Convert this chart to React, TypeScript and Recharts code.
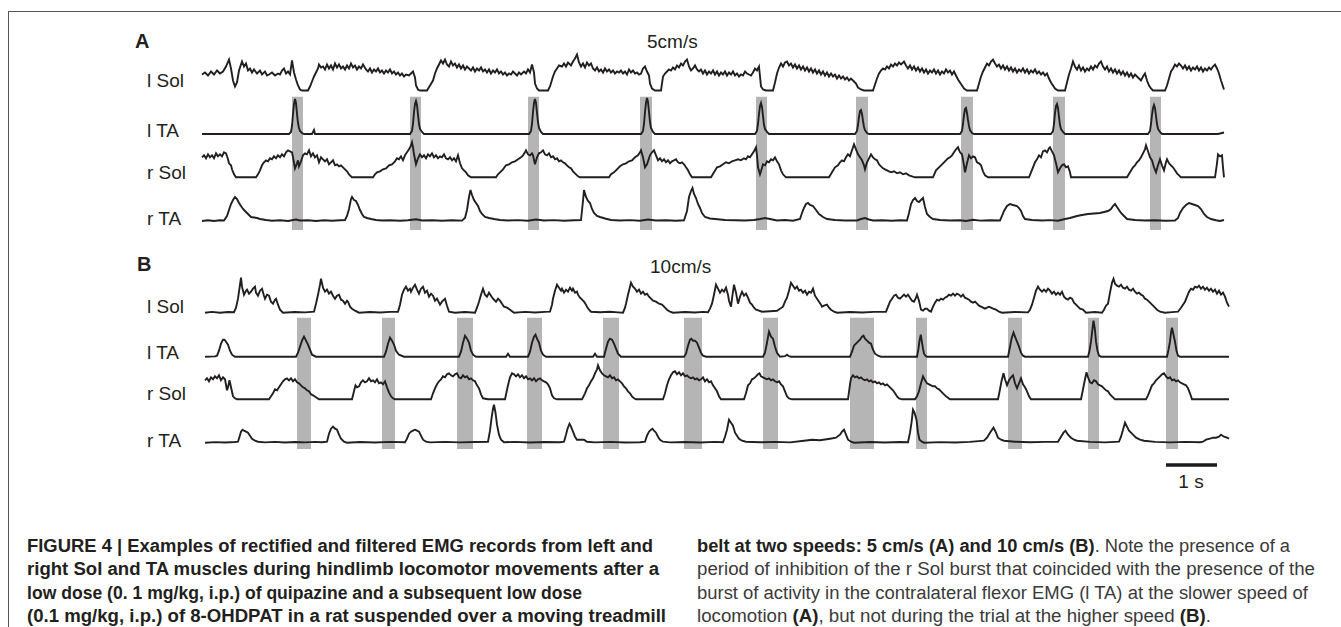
import React from 'react';
import { LineChart, Line, XAxis, YAxis, ReferenceArea, ReferenceLine } from 'recharts';

// ---------- DATA (time in samples, ~51 samples per second; amplitude in arbitrary units) ----------
const SAMPLES_PER_SECOND = 51;
const TIME_DOMAIN = [0, 1030];
const MUSCLES = ['l Sol', 'l TA', 'r Sol', 'r TA'];
const PANEL_LETTERS = ['A', 'B'];
const SPEEDS = ['5cm/s', '10cm/s'];
const SCALE_BAR_LABEL = '1 s';
const SCALE_BAR_START = 966;

// periods of l TA activity (shaded), [start, end] in samples
const BANDS_A = [[92, 103], [210, 221], [328, 339], [440, 452], [556, 567], [656, 668], [761, 773], [853, 865], [950, 961]];
const BANDS_B = [[97, 111], [182, 195], [257, 273], [327, 342], [403, 419], [484, 502], [563, 578], [650, 674], [716, 727], [808, 822], [888, 899], [966, 978]];

const L_SOL_A = [[2,16],[5,18],[8,15],[11,19],[14,16],[17,20],[20,17],[23,19],[26,24],[29,31],[31,22],[33,10],[35,4],[37,8],[39,20],[42,29],[44,24],[46,27],[48,20],[50,22],[52,18],[54,21],[57,17],[60,20],[62,16],[65,19],[67,15],[69,16],[72,18],[75,15],[78,17],[80,16],[82,20],[84,22],[86,17],[88,19],[90,16],[92,30],[94,18],[96,11],[98,5],[100,1],[102,0],[108,0],[110,4],[112,9],[114,14],[116,18],[118,22],[119,26],[121,23],[123,24],[125,21],[127,26],[129,22],[131,25],[133,21],[135,27],[137,23],[139,26],[141,22],[143,24],[145,21],[147,25],[149,22],[151,27],[153,23],[155,25],[157,21],[159,24],[161,22],[163,26],[166,21],[168,19],[170,22],[172,18],[174,21],[176,19],[178,22],[180,18],[182,20],[184,17],[186,20],[188,18],[190,21],[192,17],[194,19],[196,16],[198,18],[200,15],[202,17],[204,14],[206,16],[209,15],[211,17],[213,19],[215,13],[216,5],[218,1],[220,0],[227,0],[230,5],[233,10],[235,17],[237,22],[239,26],[241,30],[243,27],[245,31],[247,26],[249,24],[251,29],[253,25],[255,27],[257,23],[259,26],[261,22],[263,25],[265,21],[267,24],[269,22],[271,20],[273,23],[275,19],[277,22],[279,20],[281,23],[283,19],[285,21],[287,18],[289,21],[291,17],[293,20],[295,18],[297,21],[299,17],[301,19],[303,16],[305,18],[307,15],[309,17],[311,16],[313,19],[315,17],[317,15],[319,18],[321,16],[324,19],[326,17],[328,21],[330,18],[332,26],[334,18],[335,7],[337,2],[339,0],[348,0],[350,4],[353,14],[355,19],[357,22],[359,25],[362,24],[364,27],[366,24],[368,28],[371,25],[373,29],[375,32],[377,36],[379,28],[381,24],[383,27],[385,23],[387,28],[389,25],[391,27],[393,22],[395,20],[397,23],[399,19],[401,21],[403,18],[405,22],[407,19],[409,21],[411,18],[413,20],[415,17],[417,19],[419,18],[421,20],[423,17],[425,19],[427,16],[429,21],[431,18],[433,20],[435,17],[437,18],[439,16],[441,17],[443,22],[445,24],[447,19],[449,15],[450,7],[452,2],[455,0],[461,0],[463,14],[465,17],[467,19],[469,21],[471,20],[473,23],[475,21],[477,25],[479,23],[481,27],[483,25],[485,29],[487,31],[489,24],[491,20],[493,22],[495,25],[497,21],[499,19],[501,21],[503,17],[505,20],[507,16],[509,19],[511,17],[513,20],[515,16],[517,19],[519,15],[521,18],[523,16],[525,19],[527,15],[529,18],[531,16],[533,19],[535,15],[537,17],[539,14],[541,16],[543,15],[545,19],[547,17],[549,16],[551,15],[553,18],[555,22],[557,20],[559,24],[561,4],[563,1],[566,0],[573,0],[575,8],[577,17],[579,23],[581,27],[583,24],[585,28],[587,29],[589,25],[591,27],[593,23],[595,26],[597,22],[599,25],[601,21],[603,24],[605,20],[607,23],[609,19],[611,22],[613,18],[615,21],[617,17],[619,20],[621,16],[623,19],[625,15],[627,18],[629,14],[631,17],[633,14],[635,16],[637,12],[639,15],[641,12],[643,14],[645,11],[647,13],[649,10],[651,12],[654,9],[656,7],[658,3],[661,1],[664,0],[673,0],[675,6],[677,12],[679,17],[681,20],[683,22],[685,21],[687,24],[689,22],[691,26],[693,24],[695,27],[697,25],[699,28],[701,26],[704,29],[706,25],[708,22],[710,25],[712,21],[714,24],[716,20],[718,23],[720,19],[722,22],[724,18],[726,21],[728,17],[730,20],[732,18],[734,21],[736,17],[738,20],[740,16],[742,19],[744,17],[746,21],[748,18],[750,20],[752,16],[754,19],[756,15],[758,11],[760,8],[762,5],[764,2],[767,0],[777,0],[779,7],[781,14],[783,19],[785,23],[787,27],[789,25],[791,29],[793,31],[795,27],[797,24],[799,26],[801,22],[803,25],[805,21],[807,24],[809,20],[811,23],[813,19],[815,22],[817,18],[819,21],[821,19],[823,22],[825,18],[827,21],[829,17],[831,20],[833,18],[835,21],[837,17],[839,19],[841,16],[843,18],[845,15],[847,17],[849,12],[851,8],[853,5],[855,2],[858,0],[865,0],[867,8],[869,16],[871,22],[873,29],[875,24],[877,21],[879,25],[881,20],[883,23],[885,19],[887,22],[889,20],[891,24],[893,21],[895,25],[897,23],[899,27],[901,29],[903,24],[905,21],[907,24],[909,19],[911,22],[913,18],[915,21],[917,17],[919,20],[921,16],[923,19],[925,15],[927,18],[929,14],[931,17],[933,13],[935,16],[937,14],[939,12],[941,10],[943,14],[945,17],[947,10],[949,5],[951,2],[953,0],[965,0],[967,5],[969,12],[971,19],[973,22],[975,26],[977,24],[979,27],[981,25],[983,22],[985,25],[987,21],[989,24],[991,20],[993,23],[995,21],[997,24],[999,20],[1001,23],[1003,19],[1005,22],[1007,20],[1009,23],[1011,21],[1013,24],[1015,26],[1017,22],[1019,17],[1021,10],[1024,1]];

const L_TA_A = [[2,0],[89,0],[91,2],[92,8],[93,20],[94,30],[95,35],[96,31],[97,20],[98,11],[99,6],[100,3],[102,1],[104,0],[112,0],[114,4],[115,0],[210,0],[212,3],[213,10],[214,22],[215,30],[216,33],[217,29],[218,19],[219,10],[220,5],[222,2],[224,0],[329,0],[331,3],[332,10],[333,22],[334,31],[335,35],[336,31],[337,21],[338,12],[339,6],[341,2],[343,0],[441,0],[443,3],[444,10],[445,22],[446,31],[447,36],[448,32],[449,22],[450,12],[451,6],[453,2],[455,0],[555,0],[557,3],[558,10],[559,20],[560,28],[561,31],[562,27],[563,18],[564,9],[565,5],[567,2],[569,0],[655,0],[657,3],[658,9],[659,17],[660,23],[661,24],[662,20],[663,13],[664,7],[665,4],[667,1],[669,0],[760,0],[762,3],[763,10],[764,19],[765,25],[766,26],[767,21],[768,14],[769,8],[770,4],[772,1],[774,0],[851,0],[853,3],[854,10],[855,21],[856,28],[857,30],[858,26],[859,17],[860,9],[861,5],[863,2],[865,0],[948,0],[950,3],[951,10],[952,19],[953,26],[954,29],[955,26],[956,18],[957,10],[958,5],[960,2],[962,0],[1018,0],[1022,1],[1024,1.5]];

const R_SOL_A = [[2,20],[4,22],[6,19],[8,23],[10,20],[12,22],[14,19],[16,24],[18,21],[20,23],[22,21],[24,25],[26,24],[28,18],[29,14],[31,12],[32,8],[34,3],[36,0],[56,0],[58,3],[60,7],[62,12],[64,15],[66,17],[68,16],[70,19],[72,18],[74,21],[76,19],[78,22],[80,20],[82,23],[84,21],[86,25],[88,27],[90,26],[92,25],[93,20],[95,9],[97,14],[98,17],[99,11],[101,16],[103,22],[105,24],[107,23],[109,27],[111,21],[113,24],[115,20],[117,22],[119,15],[121,20],[123,18],[125,16],[127,18],[129,13],[131,15],[133,17],[135,12],[137,13],[139,11],[141,12],[143,10],[145,8],[147,6],[149,3],[152,0],[173,0],[175,3],[177,5],[180,6],[183,8],[186,9],[189,12],[192,13],[195,16],[197,19],[199,18],[201,21],[203,17],[205,22],[207,25],[209,28],[211,32],[212,35],[213,30],[214,23],[215,18],[216,13],[218,19],[220,23],[222,20],[224,22],[226,19],[228,23],[230,21],[232,24],[234,20],[236,22],[238,19],[240,21],[242,20],[244,23],[246,19],[248,18],[250,20],[252,17],[254,19],[256,16],[258,22],[260,14],[262,9],[264,7],[266,5],[268,2],[271,0],[296,0],[298,3],[300,5],[303,8],[306,12],[309,13],[312,15],[315,16],[318,18],[321,20],[323,22],[325,25],[326,27],[328,23],[330,22],[332,24],[333,22],[335,13],[337,20],[339,24],[341,25],[343,27],[345,23],[347,22],[349,24],[351,20],[353,21],[355,18],[357,19],[359,16],[361,17],[363,15],[365,14],[367,12],[369,10],[371,9],[373,6],[375,4],[378,1],[380,0],[409,0],[411,3],[414,5],[417,8],[420,11],[423,13],[426,14],[429,16],[432,17],[435,20],[438,22],[440,25],[441,27],[443,20],[445,10],[447,13],[448,16],[450,22],[452,25],[454,27],[456,22],[458,17],[460,19],[462,16],[464,18],[466,15],[468,17],[470,14],[472,16],[474,17],[476,18],[478,15],[480,14],[482,15],[484,13],[486,10],[488,7],[490,3],[492,0],[511,0],[514,5],[517,10],[520,11],[523,13],[526,15],[529,14],[532,16],[535,17],[538,18],[541,17],[544,19],[546,18],[548,21],[550,20],[552,23],[554,26],[556,30],[557,22],[558,10],[560,3],[561,6],[563,13],[565,12],[567,16],[569,15],[571,18],[573,17],[575,20],[577,16],[579,13],[581,7],[583,3],[586,0],[629,0],[632,5],[635,10],[638,12],[640,15],[642,17],[644,16],[646,20],[648,23],[650,21],[652,27],[654,33],[656,28],[658,23],[660,20],[662,17],[664,12],[665,8],[667,15],[669,19],[671,23],[673,20],[675,18],[677,17],[679,13],[681,11],[683,9],[685,8],[687,7],[689,6],[691,5],[694,6],[697,4],[700,5],[703,3],[706,4],[709,2],[712,1],[715,0],[733,0],[736,7],[739,10],[742,13],[744,15],[746,17],[748,19],[750,20],[752,22],[754,25],[756,28],[758,30],[760,25],[762,23],[764,12],[765,5],[767,14],[769,22],[771,19],[773,21],[775,20],[777,15],[779,14],[781,12],[783,6],[785,2],[788,0],[829,0],[831,5],[833,10],[835,15],[837,18],[839,22],[841,20],[843,26],[845,27],[847,25],[849,29],[850,30],[852,26],[854,22],[856,14],[858,5],[860,9],[862,12],[864,13],[866,10],[868,11],[870,5],[871,0],[927,0],[930,5],[933,10],[935,12],[937,15],[939,17],[941,20],[943,24],[945,28],[946,32],[948,26],[950,20],[952,17],[954,10],[956,5],[958,12],[960,18],[962,12],[964,7],[966,15],[967,18],[969,14],[971,12],[973,10],[975,7],[977,4],[979,2],[981,0],[1015,0],[1017,14],[1018,23],[1020,21],[1022,22],[1023,10],[1024,0]];

const R_TA_A = [[2,0],[8,0.7],[14,0],[20,0.8],[24,0.5],[27,5],[29,11],[31,17],[33,21],[35,24],[37,22],[39,18],[41,15],[43,12],[45,10],[47,8],[49,6],[51,4],[54,3.5],[57,3],[60,2],[63,1.5],[66,1],[72,0.3],[80,0.8],[88,0],[96,1.5],[100,0.5],[108,0.8],[116,0],[124,0.7],[132,0.2],[140,0.8],[145,1],[147,5],[149,12],[151,22],[152,24],[154,21],[156,20],[158,16],[160,11],[162,7],[164,4],[167,3],[171,2],[176,1],[182,0.5],[190,0.8],[200,0.2],[208,0.8],[216,1.8],[222,0.5],[232,0.8],[242,0.2],[252,0.7],[262,0.4],[265,3],[267,11],[269,24],[270.5,31],[272,26],[274,21],[276,18],[278,15],[280,10],[282,7],[285,4],[289,3],[294,2],[300,1],[308,0.5],[318,0.9],[328,0.3],[336,1.5],[344,0.5],[354,0.9],[364,0.2],[374,0.8],[381,1],[383,20],[384,31],[386,24],[388,20],[390,18],[392,12],[394,8],[397,5],[400,4],[405,2.5],[411,1],[420,0.5],[430,0.9],[440,0.3],[448,1.5],[456,0.5],[466,0.8],[476,0.3],[484,0.7],[487,10],[489,24],[491,30],[492.5,33],[494,27],[496,23],[498,17],[500,13],[502,8],[505,4],[510,2.5],[515,2],[525,1],[535,0.8],[545,0.5],[554,1],[560,2],[565,3],[570,2],[577,0.5],[585,1],[593,0.3],[600,2],[602,8],[604,13],[606,17],[608,18],[610,16],[613,15],[616,11],[619,7],[623,4],[627,2],[635,1],[645,0.5],[657,0.5],[661,2],[665,3],[669,1.5],[673,0.5],[682,0.8],[692,0.3],[700,0.7],[707,0.5],[709,8],[711,17],[713,21],[715,23],[717,20],[719,19],[721,21],[723,23],[725,14],[727,7],[730,4],[733,2],[740,1],[750,0.5],[760,0.8],[766,0],[773,1.2],[780,0.4],[790,0.8],[800,0.5],[802,5],[804,10],[807,15],[810,17],[813,16],[817,15],[819,13],[821,10],[823,5],[825,2],[832,1],[842,0.5],[850,0.9],[858,0.3],[865,2],[870,3],[877,5],[882,6],[888,7],[894,7.5],[900,8],[904,9],[908,10],[911,12],[913,15],[915,17],[917,14],[919,11],[921,8],[924,5],[927,2],[935,1],[945,0.5],[955,0.8],[965,0.2],[975,0.5],[978,3],[980,8],[983,13],[986,16],[989,18],[992,17],[995,16],[998,15],[1001,12],[1004,7],[1007,4],[1011,2],[1016,0.8],[1020,0],[1024,1]];

const L_SOL_B = [[5,0],[12,0.8],[20,0],[28,0.7],[34,0.5],[36,5],[38,14],[40,28],[41,35],[42,26],[44,18],[46,22],[47,23],[49,19],[51,21],[53,24],[55,26],[56,20],[58,17],[60,22],[62,24],[64,17],[65,14],[67,18],[69,17],[71,11],[73,9],[75,13],[76,14],[78,8],[80,3],[83,0],[95,0.7],[105,0.3],[114,1],[116,9],[118,18],[120,28],[121,34],[123,25],[125,21],[127,23],[129,19],[131,21],[133,17],[135,14],[137,17],[139,18],[141,13],[143,12],[145,9],[147,12],[148,11],[150,6],[152,4],[155,2],[159,0],[170,0.7],[180,0.2],[190,0.8],[198,1],[200,8],[202,18],[204,23],[206,26],[208,22],[210,24],[211,21],[213,25],[215,28],[217,23],[219,19],[221,24],[223,26],[225,20],[227,22],[229,16],[231,19],[233,17],[235,12],[237,14],[240,8],[242,11],[244,13],[245,14],[247,7],[249,1],[255,0],[265,0.7],[275,0],[277,5],[279,11],[281,18],[283,24],[285,18],[287,16],[289,20],[291,17],[293,14],[296,11],[298,14],[300,12],[302,9],[304,6],[307,5],[310,3],[314,0],[325,0.8],[335,0.2],[345,0.8],[350,1],[352,8],[353,14],[355,22],[357,28],[359,25],[361,22],[362,24],[364,20],[366,23],[368,21],[370,25],[372,22],[373,24],[375,20],[377,21],[378,18],[380,15],[382,13],[384,11],[386,8],[387,6],[389,3],[391,1],[400,0.5],[410,0.9],[418,0.3],[423,0],[425,5],[426,9],[428,18],[430,26],[431,30],[433,26],[435,24],[437,21],[439,23],[441,19],[443,21],[445,18],[447,19],[449,16],[451,14],[453,12],[456,11],[459,9],[462,8],[465,5],[467,3],[470,1],[473,0],[485,0.7],[495,0.2],[503,0.8],[508,0.5],[510,4],[512,9],[514,18],[516,28],[518,24],[520,20],[522,23],[524,21],[526,25],[528,18],[529,12],[531,6],[532,14],[534,28],[536,20],[538,9],[540,16],[542,21],[544,17],[546,19],[548,15],[550,10],[552,8],[554,5],[556,3],[559,2],[562,1],[570,1.5],[577,2],[580,4],[583,6],[585,11],[587,15],[589,22],[591,30],[593,27],[595,24],[597,26],[599,22],[601,23],[603,20],[605,22],[607,18],[609,21],[611,20],[613,24],[615,17],[617,14],[619,11],[621,8],[622,6],[624,7],[627,8],[629,5],[631,3],[634,1],[637,0],[650,0.7],[662,0.2],[674,0.8],[686,1],[688,6],[690,11],[692,14],[694,17],[696,18],[698,15],[700,14],[702,16],[704,18],[706,16],[708,18],[710,15],[712,12],[714,11],[716,15],[717,18],[719,12],[721,3],[723,2],[725,4],[727,4],[729,2],[731,1],[733,6],[735,10],[737,13],[739,12],[741,14],[743,13],[745,15],[747,16],[749,18],[751,17],[753,19],[755,17],[757,19],[759,18],[761,16],[763,18],[765,15],[767,14],[769,13],[771,11],[773,10],[775,11],[777,9],[779,7],[781,6],[783,5],[785,4],[787,5],[789,6],[791,5],[793,4],[796,3],[799,1],[802,0],[815,0.7],[828,0.3],[830,3],[832,8],[834,15],[836,22],[838,26],[840,23],[842,21],[844,23],[846,21],[848,24],[850,22],[852,19],[854,21],[856,18],[858,20],[860,18],[862,21],[864,16],[866,14],[868,13],[870,15],[872,14],[874,10],[876,8],[878,6],[880,4],[883,3],[886,0],[895,0.7],[902,0],[904,3],[906,7],[908,9],[910,20],[912,30],[913.5,34],[915,29],[917,27],[919,26],[921,28],[923,25],[925,24],[927,26],[929,23],[931,22],[933,24],[935,21],[937,19],[939,20],[941,18],[943,17],[945,14],[947,13],[949,11],[951,9],[953,7],[955,5],[957,3],[960,1],[965,0],[972,0.6],[978,1],[981,5],[983,8],[985,11],[987,16],[989,21],[991,24],[993,23],[995,26],[997,25],[999,27],[1001,24],[1003,26],[1005,23],[1007,25],[1009,22],[1011,24],[1013,21],[1015,23],[1017,19],[1019,22],[1021,18],[1023,20],[1025,16],[1027,10],[1029,6]];

const L_TA_B = [[5,0],[15,0.3],[17,1],[19,6],[21,13],[23,17],[24.5,17],[26,15],[28,12],[30,6],[32,2],[35,0],[96,0],[98,4],[100,10],[102,16],[104,20],[106,16],[108,12],[110,7],[112,2],[116,0],[184,0],[186,5],[188,13],[190,19],[192,16],[194,12],[196,6],[199,2],[204,0],[259,0],[261,5],[263,14],[265,21],[267,18],[269,14],[271,6],[273,2],[276,0],[306,0],[308,3],[310,0],[328,0],[330,5],[332,14],[334,20],[335.5,22],[337,18],[339,14],[341,6],[343,2],[346,0],[393,0],[395,3],[397,0],[404,0],[406,8],[408,15],[410,18],[412,17],[414,13],[416,8],[418,3],[421,0],[484,0],[486,3],[488,11],[490,17],[491.5,18],[493,16],[495,16],[497,14],[499,9],[501,4],[503,1],[506,0],[563,0],[565,4],[567,14],[569,25],[571,20],[573,18],[575,10],[577,4],[580,0],[585,0.5],[587,2],[589,0.5],[591,0],[650,0],[652,5],[654,11],[656,13],[658,15],[660,17],[662,20],[663.5,21],[665,18],[667,16],[669,14],[671,13],[673,7],[675,3],[678,1],[681,0],[717,0],[718.5,8],[719.5,16],[720.8,22],[722,14],[723,8],[724,3],[725.5,1],[727,0],[808,0],[810,10],[811.5,18],[813.5,24],[815,20],[817,15],[819,10],[821,4],[823,1],[825,0],[888,0],[889.5,6],[891,15],[892.5,28],[893.5,36],[894.8,28],[896,15],[897.5,6],[899,1],[901,0],[967,0],[968.5,7],[970,15],[971,24],[972,29],[973.5,22],[975,15],[976.5,6],[978,1],[980,0],[1029,0]];

const R_SOL_B = [[5,19],[7,21],[9,18],[11,22],[13,20],[15,23],[17,21],[19,24],[21,19],[23,22],[25,20],[27,9],[28,12],[29.5,19],[31,12],[33,3],[35,1],[37,0],[69,0],[71,3],[73,6],[75,10],[77,9],[79,12],[81,15],[83,18],[85,20],[87,21],[89,19],[91,21],[93,18],[95,20],[97,17],[99,16],[101,14],[103,12],[105,11],[107,9],[109,8],[111,5],[113,4],[116,2],[119,0],[152,0],[154,8],[155.5,14],[157,12],[159,13],[161,17],[163,19],[165,17],[167,18],[169,21],[171,18],[173,19],[175,17],[177,20],[179,16],[181,17],[183,15],[185,18],[187,12],[189,7],[191,3],[193,1],[195,0],[231,0],[233,6],[235,11],[237,15],[239,18],[241,20],[243,23],[245,22],[247,25],[249,26],[251,24],[253,23],[255,25],[257,26],[259,22],[261,21],[263,24],[265,22],[267,23],[269,20],[271,21],[273,19],[275,18],[277,14],[279,11],[281,5],[283,1],[288,0],[305,0],[306.5,7],[308,14],[310,22],[312,26],[314,25],[316,23],[318,25],[320,22],[322,24],[324,21],[326,23],[328,20],[330,21],[332,19],[334,21],[336,18],[338,20],[340,21],[342,19],[344,18],[346,17],[348,15],[350,11],[352,4],[354,1],[357,0],[382,0],[385,6],[387,11],[389,14],[391,18],[393,21],[395,26],[397,30],[398,34],[400,29],[402,26],[404,24],[406,23],[408,22],[410,24],[412,21],[414,22],[416,19],[418,20],[420,18],[422,16],[424,13],[426,11],[428,8],[430,6],[432,3],[434,1],[436,0],[463,0],[465,6],[467,14],[469,20],[471,24],[473,27],[475,28],[477,25],[479,27],[481,24],[483,26],[485,23],[487,24],[489,22],[491,21],[493,22],[495,20],[497,21],[499,19],[501,20],[503,22],[505,18],[507,20],[509,17],[511,18],[513,14],[515,11],[517,8],[519,3],[521,0],[544,0],[546,6],[548,14],[550,16],[552,20],[554,21],[556,23],[558,25],[559.5,26],[561,23],[563,22],[565,21],[567,20],[569,21],[571,19],[573,20],[575,18],[577,17],[579,18],[581,15],[583,13],[585,8],[587,3],[589,1],[592,0],[648,0],[650,15],[651,21],[653,24],[655,22],[657,23],[659,21],[661,22],[663,20],[665,19],[667,20],[669,18],[671,19],[673,17],[675,18],[677,16],[679,17],[681,15],[683,16],[685,14],[687,15],[689,13],[691,11],[693,9],[695,6],[697,3],[699,1],[702,0],[715,0],[717,3],[719,8],[721,16],[723,23],[725,19],[727,16],[729,15],[731,14],[733,13],[735,13],[737,11],[739,10],[741,8],[743,6],[746,3],[750,0],[798,0],[800,10],[801.5,18],[803.5,26],[805,20],[807,14],[809,19],[811,22],[813,24],[815,16],[817,11],[819,16],[821,21],[823,15],[825,12],[827,8],[829,3],[831,0],[881,0],[883,10],[885,20],[886.5,27],[888,22],[890,17],[892,16],[894,19],[896,18],[898,15],[900,14],[902,13],[904,11],[906,9],[908,8],[910,5],[912,3],[915,0],[946,0],[948,4],[950,9],[952,14],[954,16],[956,19],[958,21],[960,23],[962,25],[964,26],[966,23],[968,21],[970,22],[972,19],[974,20],[976,18],[978,19],[980,17],[982,16],[984,15],[986,14],[988,11],[990,6],[992,0],[1029,0]];

const R_TA_B = [[5,0],[15,0.6],[25,0.2],[35,0.7],[38,1],[39.5,6],[41,11],[42.5,13],[44,12],[46,11],[48,10],[50,7],[52,4],[55,2],[58,1],[65,0.3],[75,0.8],[85,0.2],[95,0.7],[105,0.3],[115,0.8],[122,0.4],[127,1],[129,9],[131,14],[133,16],[135,14],[137,13],[139,8],[141,4],[144,1],[147,0],[160,0.7],[175,0.2],[190,0.8],[205,0.5],[207,4],[209,9],[211,11],[213,12],[215,13],[217,12],[219,11],[221,7],[223,3],[226,1],[230,0.3],[245,0.8],[260,0.3],[275,0.7],[288,1],[290,12],[291.5,24],[293,34],[294,38],[295.5,30],[297,18],[299,8],[301,3],[304,0.5],[315,0.8],[330,0.2],[345,0.7],[360,0.4],[364,1],[366,8],[367.5,14],[369.5,19],[371,16],[373,11],[375,6],[377,3],[380,3],[384,3],[387,1],[395,0.3],[410,0.8],[425,0.2],[440,0.5],[445,1],[447,7],[449,11],[451,13],[452.5,14],[454,12],[456,10],[458,6],[460,3],[463,1],[470,0.3],[485,0.7],[500,0.2],[515,0.8],[523,0.5],[525,6],[527,13],[529,23],[531,20],[533,17],[535,10],[537,7],[539,4],[542,2],[546,1],[560,0.4],[575,0.8],[590,0.3],[604,2],[612,3],[620,2.5],[630,4],[636,5],[640,8],[642,11],[644,13],[646,8],[648,3],[651,1],[654,0],[670,0.7],[685,0.2],[700,0.7],[708,0.5],[710,10],[711.5,20],[713,33],[714.5,30],[716.5,23],[718,10],[719.5,3],[722,1],[724,0],[740,0.6],[755,0.2],[770,0.8],[784,2],[787,5],[790,10],[793.5,15],[796,10],[798,5],[801,3],[804,2],[815,1],[830,0.4],[845,0.8],[858,1],[861,6],[863.5,10],[865.5,12],[868,8],[871,5],[874,3],[877,2],[890,0.8],[905,0.3],[919,1],[921,6],[923,13],[925,20],[927,16],[929,12],[931,10],[933,8],[936,5],[940,3],[944,2],[955,0.8],[970,0.3],[985,0.8],[1000,0.5],[1003,1],[1006,3],[1010,4],[1013,5],[1016,5],[1019,6],[1021,8],[1024,6],[1027,5],[1029,4]];

const CAPTION_LEFT = [
  'FIGURE 4 | Examples of rectified and filtered EMG records from left and',
  'right Sol and TA muscles during hindlimb locomotor movements after a',
  'low dose (0. 1 mg/kg, i.p.) of quipazine and a subsequent low dose',
  '(0.1 mg/kg, i.p.) of 8-OHDPAT in a rat suspended over a moving treadmill',
];

// ---------- LAYOUT ----------
const CHART_LEFT = 200;
const CHART_TOP = 30;
const CHART_W = 1030;
const CHART_H = 460;
const TRACE_COLOR = '#231f20';
const BAND_COLOR = '#b5b5b5';
const FONT = "'Liberation Sans', Arial, Helvetica, sans-serif";
const CAP_Y0 = 551.5;
const CAP_DY = 23.5;

const TRACES = [
  { id: 'lSolA', data: L_SOL_A, base: 90.5 },
  { id: 'lTaA', data: L_TA_A, base: 134 },
  { id: 'rSolA', data: R_SOL_A, base: 177.3 },
  { id: 'rTaA', data: R_TA_A, base: 221 },
  { id: 'lSolB', data: L_SOL_B, base: 312.7 },
  { id: 'lTaB', data: L_TA_B, base: 356.7 },
  { id: 'rSolB', data: R_SOL_B, base: 399.3 },
  { id: 'rTaB', data: R_TA_B, base: 442.7 },
];
const LABEL_Y = [[80, 130, 172, 218], [306, 352, 393, 440]];
const BAND_Y = [[96.7, 230], [317.7, 449]];

const toPts = (arr: number[][]) => arr.map(([t, v]) => ({ t, v }));

function Txt({ x, y, children, size = 19, bold = false, center = false }: any) {
  return (
    <div
      style={{
        position: 'absolute', left: x, top: y, transform: `translate(${center ? '-50%' : '0'}, -50%)`,
        fontFamily: FONT, fontSize: size, fontWeight: bold ? 700 : 400, lineHeight: 1,
        whiteSpace: 'nowrap', color: '#231f20',
      }}
    >
      {children}
    </div>
  );
}

export default function App() {
  const bandSets = [BANDS_A, BANDS_B];
  return (
    <div style={{ position: 'absolute', left: 0, top: 0, width: 1341, height: 627, background: '#fff', overflow: 'hidden' }}>
      <div style={{ position: 'absolute', left: 8, top: 11, width: 1400, height: 700, borderTop: '1.5px solid #555', borderLeft: '1.5px solid #555' }} />

      {PANEL_LETTERS.map((p, i) => (
        <Txt key={p} x={i === 0 ? 135 : 137} y={i === 0 ? 41 : 264} size={20} bold>{p}</Txt>
      ))}
      {SPEEDS.map((s, i) => (
        <Txt key={s} x={i === 0 ? 647 : 650} y={i === 0 ? 41 : 266}>{s}</Txt>
      ))}
      {[0, 1].map((pi) => MUSCLES.map((m, mi) => (
        <Txt key={pi + m} x={147} y={LABEL_Y[pi][mi]}>{m}</Txt>
      )))}

      <div style={{ position: 'absolute', left: CHART_LEFT, top: CHART_TOP }}>
        <LineChart width={CHART_W} height={CHART_H} margin={{ top: 0, right: 0, bottom: 0, left: 0 }}>
          <XAxis type="number" dataKey="t" domain={TIME_DOMAIN} hide allowDataOverflow />
          <YAxis yAxisId="frame" type="number" domain={[0, CHART_H]} reversed hide allowDataOverflow />
          {TRACES.map((tr) => (
            <YAxis key={tr.id} yAxisId={tr.id} type="number" domain={[tr.base - CHART_TOP - CHART_H, tr.base - CHART_TOP]} hide allowDataOverflow />
          ))}
          {bandSets.map((bands, pi) => bands.map(([a, b], bi) => (
            <ReferenceArea key={`band${pi}-${bi}`} yAxisId="frame" x1={a} x2={b}
              y1={BAND_Y[pi][0] - CHART_TOP} y2={BAND_Y[pi][1] - CHART_TOP}
              fill={BAND_COLOR} fillOpacity={1} stroke="none" />
          )))}
          {TRACES.map((tr) => (
            <Line key={tr.id} yAxisId={tr.id} data={toPts(tr.data)} dataKey="v" type="linear"
              stroke={TRACE_COLOR} strokeWidth={1.9} dot={false} activeDot={false} isAnimationActive={false} />
          ))}
          <ReferenceLine yAxisId="frame"
            segment={[{ x: SCALE_BAR_START, y: 465 - CHART_TOP }, { x: SCALE_BAR_START + SAMPLES_PER_SECOND, y: 465 - CHART_TOP }]}
            stroke="#1a1a1a" strokeWidth={3.5} />
        </LineChart>
      </div>
      <Txt x={1191} y={481} center>{SCALE_BAR_LABEL}</Txt>

      <svg width={1341} height={627} style={{ position: 'absolute', left: 0, top: 0 }}>
        {CAPTION_LEFT.map((line, i) => (
          <text key={i} x={27} y={CAP_Y0 + i * CAP_DY} textLength={[626, 632, 555, 639][i]} lengthAdjust="spacingAndGlyphs"
            fontFamily={FONT} fontSize={18} fontWeight="bold" fill="#231f20">{line}</text>
        ))}
        <text x={697} y={CAP_Y0} textLength={593} lengthAdjust="spacingAndGlyphs" fontFamily={FONT} fontSize={18} fill="#3a3a3a">
          <tspan fontWeight="bold" fill="#231f20">belt at two speeds: 5 cm/s (A) and 10 cm/s (B)</tspan>. Note the presence of a
        </text>
        <text x={697} y={CAP_Y0 + CAP_DY} textLength={618} lengthAdjust="spacingAndGlyphs" fontFamily={FONT} fontSize={18} fill="#3a3a3a">
          period of inhibition of the r Sol burst that coincided with the presence of the
        </text>
        <text x={697} y={CAP_Y0 + 2 * CAP_DY} textLength={611} lengthAdjust="spacingAndGlyphs" fontFamily={FONT} fontSize={18} fill="#3a3a3a">
          burst of activity in the contralateral flexor EMG (l TA) at the slower speed of
        </text>
        <text x={697} y={CAP_Y0 + 3 * CAP_DY} textLength={514} lengthAdjust="spacingAndGlyphs" fontFamily={FONT} fontSize={18} fill="#3a3a3a">
          locomotion <tspan fontWeight="bold" fill="#231f20">(A)</tspan>, but not during the trial at the higher speed <tspan fontWeight="bold" fill="#231f20">(B)</tspan>.
        </text>
      </svg>
    </div>
  );
}
